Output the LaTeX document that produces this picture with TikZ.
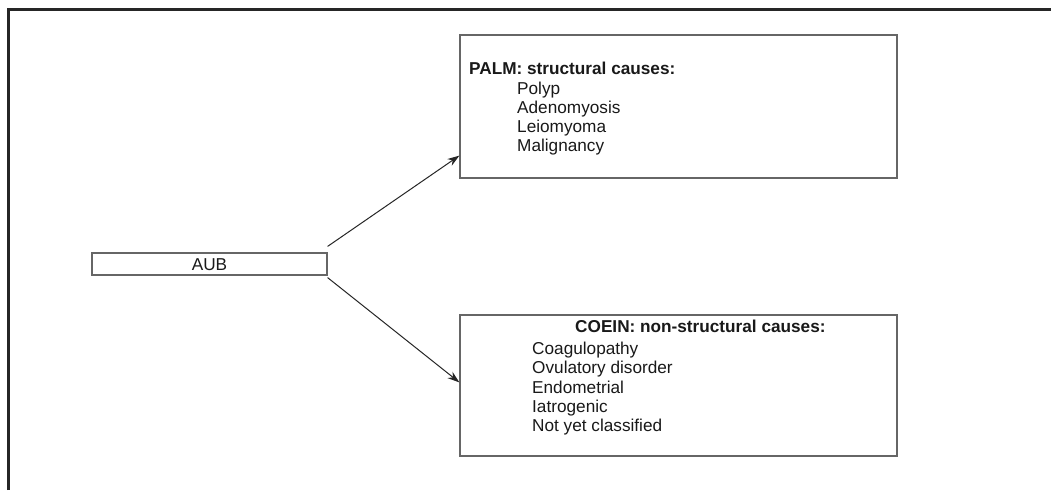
\documentclass[tikz,border=0pt]{standalone}
\usepackage{fontspec}
\setmainfont{Liberation Sans}
\usetikzlibrary{arrows.meta}
\begin{document}
\begin{tikzpicture}[x=1pt,y=-1pt,
  box/.style={draw=black!60, line width=1.2pt},
  frameline/.style={draw=black!85, line width=3pt},
  conn/.style={draw=black!85, line width=1pt, -{Stealth[length=12pt,width=8pt]}},
  txt/.style={anchor=base west, inner sep=0pt, text=black!90, font=\fontsize{17.2}{20}\selectfont},
  ttl/.style={txt, font=\fontsize{17.2}{20}\selectfont\bfseries}
]
\useasboundingbox (0,0) rectangle (1051,490);
\fill[white] (0,0) rectangle (1051,490);
% outer frame (top and left only)
\draw[frameline] (8,490) -- (8,9.5) -- (1051,9.5);

% boxes
\node[box, rectangle, minimum width=235pt, minimum height=22pt, inner sep=0pt] (aub) at (209.5,264) {};
\node[txt, anchor=base] (aubt) at (209.5,270.5) {AUB};

\node[box, rectangle, minimum width=437pt, minimum height=143pt, inner sep=0pt] (palm) at (678.5,106.5) {};
\node[box, rectangle, minimum width=437pt, minimum height=141pt, inner sep=0pt] (coein) at (678.5,385.5) {};

% PALM text
\node[ttl] (p0) at (469,74) {PALM: structural causes:};
\node[txt] (p1) at (517,94.5) {Polyp};
\node[txt] (p2) at (517,113.5) {Adenomyosis};
\node[txt] (p3) at (517,132.5) {Leiomyoma};
\node[txt] (p4) at (517,151.7) {Malignancy};

% COEIN text
\node[ttl] (c0) at (575,332) {COEIN: non-structural causes:};
\node[txt] (c1) at (532,354) {Coagulopathy};
\node[txt] (c2) at (532,373.5) {Ovulatory disorder};
\node[txt] (c3) at (532,393) {Endometrial};
\node[txt] (c4) at (532,412.3) {Iatrogenic};
\node[txt] (c5) at (532,431.7) {Not yet classified};

% connectors
\coordinate (a1) at ([yshift=6pt]aub.north east);
\coordinate (a2) at ([yshift=-2pt]aub.south east);
\draw[conn] (a1) -- ([yshift=23pt]palm.south west);
\draw[conn] (a2) -- ([yshift=-68pt]coein.north west);
\end{tikzpicture}
\end{document}
